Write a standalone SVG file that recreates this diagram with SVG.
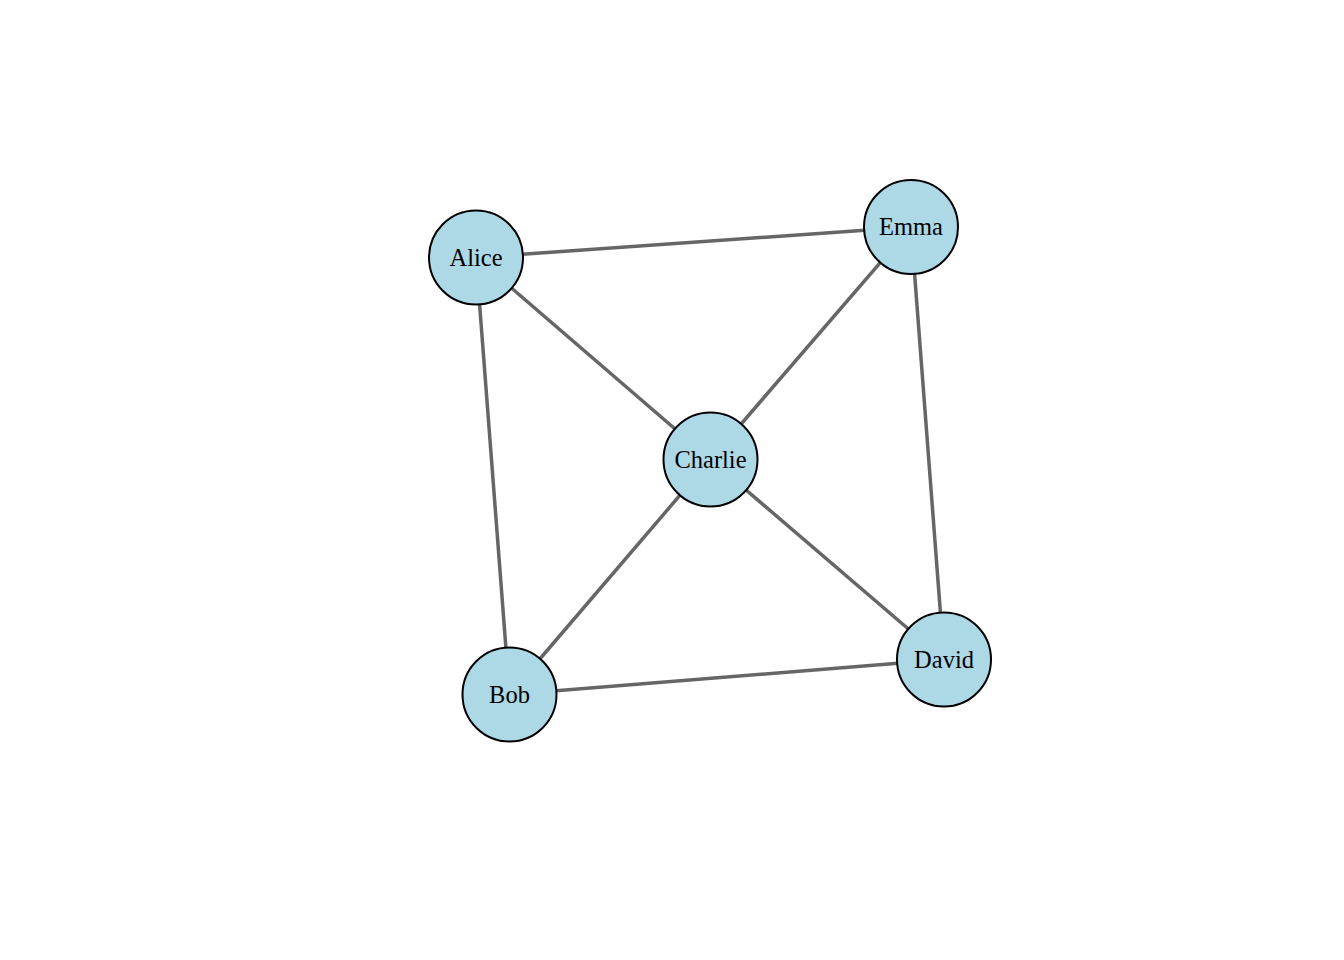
<svg xmlns="http://www.w3.org/2000/svg" width="1344" height="960" viewBox="0 0 1344 960">
<style>
.edge{stroke:#666666;stroke-width:3.5;fill:none}
.node circle{fill:#ADD8E6;stroke:#000;stroke-width:2}
.node text{font-family:"Liberation Serif",serif;font-size:24.5px;fill:#000;text-anchor:middle;dominant-baseline:central}
</style>
<rect width="1344" height="960" fill="#fff"/>
<g id="edges">
<line class="edge" x1="476" y1="257.5" x2="911" y2="227"/>
<line class="edge" x1="476" y1="257.5" x2="710.5" y2="459.5"/>
<line class="edge" x1="476" y1="257.5" x2="509.5" y2="694.5"/>
<line class="edge" x1="911" y1="227" x2="710.5" y2="459.5"/>
<line class="edge" x1="911" y1="227" x2="944" y2="659.5"/>
<line class="edge" x1="710.5" y1="459.5" x2="509.5" y2="694.5"/>
<line class="edge" x1="710.5" y1="459.5" x2="944" y2="659.5"/>
<line class="edge" x1="509.5" y1="694.5" x2="944" y2="659.5"/>
</g>
<g id="alice" class="node"><circle cx="476" cy="257.5" r="47"/><text x="476" y="257">Alice</text></g>
<g id="emma" class="node"><circle cx="911" cy="227" r="47"/><text x="911" y="226.5">Emma</text></g>
<g id="charlie" class="node"><circle cx="710.5" cy="459.5" r="47"/><text x="710.5" y="459">Charlie</text></g>
<g id="bob" class="node"><circle cx="509.5" cy="694.5" r="47"/><text x="509.5" y="694">Bob</text></g>
<g id="david" class="node"><circle cx="944" cy="659.5" r="47"/><text x="944" y="659">David</text></g>
</svg>
